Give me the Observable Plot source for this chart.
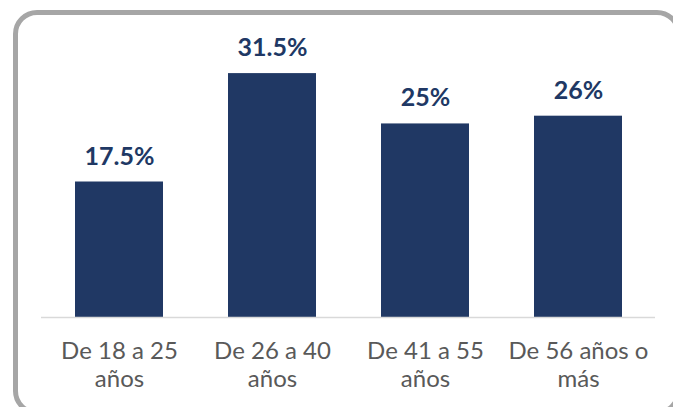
<!DOCTYPE html>
<html>
<head>
<meta charset="utf-8">
<script src="https://cdn.jsdelivr.net/npm/d3@7"></script>
<script src="https://cdn.jsdelivr.net/npm/@observablehq/plot@0.6"></script>
<style>
  html, body { margin: 0; padding: 0; background: #fff; overflow: hidden; }
  #wrap { position: relative; width: 673px; height: 407px; overflow: hidden; }
  #frame {
    position: absolute; left: 12.5px; top: 9.5px; width: 668px; height: 405px;
    border: 5px solid #a6a6a6; border-radius: 24px; box-sizing: border-box; pointer-events: none;
  }
  #chart { position: absolute; left: 0; top: 0; }
</style>
</head>
<body>
<div id="wrap"><div id="frame"></div><div id="chart"></div></div>
<script>
const categories = ["De 18 a 25 años", "De 26 a 40 años", "De 41 a 55 años", "De 56 años o más"];
const tickLabels = ["De 18 a 25\naños", "De 26 a 40\naños", "De 41 a 55\naños", "De 56 años o\nmás"];
const values = [17.5, 31.5, 25, 26];
const valueLabels = ["17.5%", "31.5%", "25%", "26%"];

const data = categories.map((c, i) => ({category: c, value: values[i], label: valueLabels[i], tick: tickLabels[i]}));
const tickMap = new Map(data.map(d => [d.category, d.tick]));

const chart = Plot.plot({
  width: 673,
  height: 407,
  marginLeft: 41,
  marginRight: 18,
  marginTop: 46,
  marginBottom: 90,
  style: {fontFamily: "Lato, 'Noto Sans', sans-serif", background: "transparent"},
  x: {type: "band", domain: categories, paddingInner: 0.427, paddingOuter: 0.2135, label: null},
  y: {domain: [0, 35], axis: null},
  marks: [
    Plot.barY(data, {x: "category", y: "value", fill: "#203864"}),
    Plot.ruleY([0], {stroke: "#d9d9d9", strokeWidth: 1.5}),
    Plot.text(data, {x: "category", y: "value", text: "label", lineAnchor: "bottom", dy: -17.5,
      fontSize: 25, fontWeight: "bold", fill: "#203864"}),
    Plot.axisX({tickSize: 0, tickPadding: 22, fontSize: 24, lineHeight: 1.16, lineAnchor: "top",
      color: "#595959", tickFormat: d => tickMap.get(d), label: null})
  ]
});
document.getElementById("chart").append(chart);
</script>
</body>
</html>
